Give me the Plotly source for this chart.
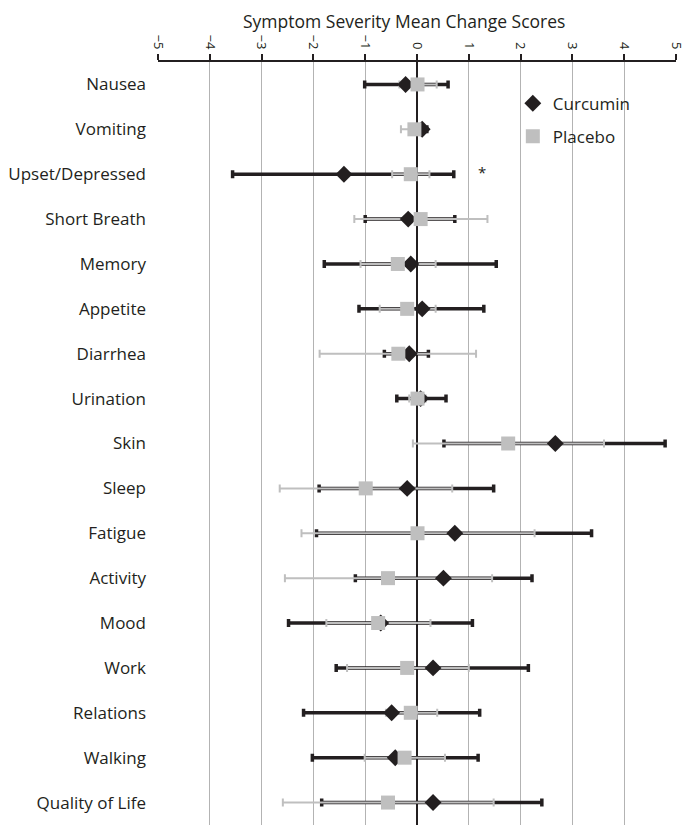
import plotly.graph_objects as go

symptoms = ['Nausea', 'Vomiting', 'Upset/Depressed', 'Short Breath', 'Memory', 'Appetite',
            'Diarrhea', 'Urination', 'Skin', 'Sleep', 'Fatigue', 'Activity', 'Mood', 'Work',
            'Relations', 'Walking', 'Quality of Life']

# mean change and error-bar ends
curcumin_mean = [-0.22, 0.10, -1.41, -0.17, -0.12, 0.10, -0.15, 0.07, 2.67, -0.19, 0.73,
                 0.51, -0.70, 0.31, -0.49, -0.42, 0.31]
curcumin_low = [-1.01, 0.00, -3.56, -1.00, -1.79, -1.12, -0.63, -0.39, 0.52, -1.89, -1.94,
                -1.19, -2.48, -1.56, -2.19, -2.02, -1.84]
curcumin_high = [0.60, 0.19, 0.71, 0.73, 1.53, 1.29, 0.22, 0.56, 4.79, 1.48, 3.37,
                 2.22, 1.07, 2.15, 1.21, 1.18, 2.41]

placebo_mean = [0.01, -0.05, -0.12, 0.07, -0.37, -0.19, -0.36, 0.01, 1.76, -0.99, 0.01,
                -0.56, -0.75, -0.19, -0.12, -0.24, -0.56]
placebo_low = [-0.34, -0.31, -0.48, -1.21, -1.09, -0.72, -1.88, -0.15, -0.08, -2.65, -2.23,
               -2.55, -1.75, -1.35, -0.60, -1.01, -2.59]
placebo_high = [0.38, 0.17, 0.24, 1.36, 0.36, 0.36, 1.14, 0.17, 3.61, 0.68, 2.27,
                1.45, 0.26, 1.00, 0.39, 0.54, 1.48]

DARK = '#231f20'
LIGHT = '#bfbfbf'
FONT = 'Open Sans'


def err(mean, low, high):
    plus = [h - m for m, h in zip(mean, high)]
    minus = [m - l for m, l in zip(mean, low)]
    return plus, minus


c_plus, c_minus = err(curcumin_mean, curcumin_low, curcumin_high)
p_plus, p_minus = err(placebo_mean, placebo_low, placebo_high)

fig = go.Figure()

# error bars first (curcumin below placebo), markers on top
fig.add_trace(go.Scatter(
    x=curcumin_mean, y=symptoms, mode='markers', showlegend=False, hoverinfo='skip',
    marker=dict(size=1, color='rgba(0,0,0,0)'),
    error_x=dict(type='data', symmetric=False, array=c_plus, arrayminus=c_minus,
                 color=DARK, thickness=3.5, width=4)))
fig.add_trace(go.Scatter(
    x=placebo_mean, y=symptoms, mode='markers', showlegend=False, hoverinfo='skip',
    marker=dict(size=1, color='rgba(0,0,0,0)'),
    error_x=dict(type='data', symmetric=False, array=p_plus, arrayminus=p_minus,
                 color=LIGHT, thickness=2, width=4)))
fig.add_trace(go.Scatter(
    x=curcumin_mean, y=symptoms, mode='markers', name='Curcumin', legendgroup='c',
    marker=dict(symbol='diamond', size=13, color=DARK)))
fig.add_trace(go.Scatter(
    x=placebo_mean, y=symptoms, mode='markers', name='Placebo', legendgroup='p',
    marker=dict(symbol='square', size=14, color=LIGHT)))

fig.add_annotation(x=1.26, y='Upset/Depressed', text='*', showarrow=False,
                   font=dict(size=15, color=DARK), yshift=2)
fig.add_annotation(xref='paper', yref='paper', x=0.475, y=1.054, yanchor='middle',
                   text='Symptom Severity Mean Change Scores', showarrow=False,
                   font=dict(size=17.5, color=DARK, family=FONT))

fig.update_xaxes(
    side='top', range=[-5, 5], dtick=1, tickangle=90, automargin=False,
    showgrid=True, gridcolor='#b3b3b3', gridwidth=1,
    zeroline=True, zerolinecolor=DARK, zerolinewidth=2,
    showline=True, linecolor=DARK, linewidth=2,
    ticks='outside', ticklen=6, tickwidth=1.5, tickcolor=DARK,
    tickfont=dict(size=13, color=DARK, family=FONT))
fig.update_yaxes(
    range=[len(symptoms) - 0.5, -0.5], showgrid=False, zeroline=False, showline=False,
    ticks='', ticklabelstandoff=11, automargin=False,
    tickfont=dict(size=17, color=DARK, family=FONT))

# page body adds an 8px offset, so the figure is sized 8px smaller on each axis
fig.update_layout(
    width=682, height=827, plot_bgcolor='white', paper_bgcolor='white',
    margin=dict(l=150, r=14, t=54, b=10),
    font=dict(family=FONT, color=DARK),
    legend=dict(x=0.685, y=0.969, xanchor='left', yanchor='top', bgcolor='rgba(0,0,0,0)',
                font=dict(size=17, color=DARK, family=FONT), tracegroupgap=8))

fig.write_html('out.html')
